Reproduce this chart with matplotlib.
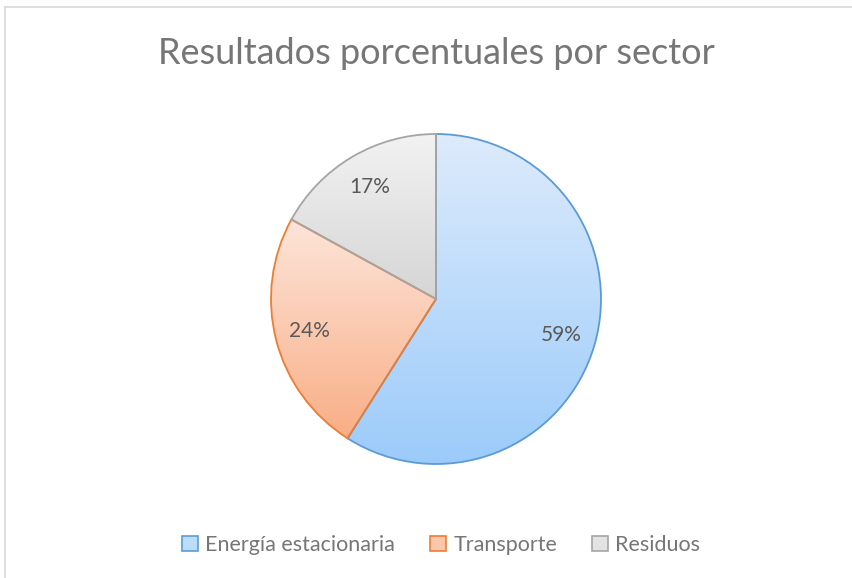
import numpy as np
import matplotlib.pyplot as plt
from matplotlib.patches import Patch
from matplotlib.lines import Line2D
from matplotlib.colors import to_rgb

# Chart data
sectors = ["Energía estacionaria", "Transporte", "Residuos"]
shares = [59, 24, 17]

# Excel-ish colours: (gradient top, gradient bottom, edge)
grad_top = ["#DDEBFC", "#FDE5DA", "#F2F2F2"]
grad_bottom = ["#9CCBFA", "#F9AE86", "#D5D5D5"]
legend_fill = ["#BCDCFB", "#FBC6AA", "#E2E2E2"]
edge_cols = ["#5B9BD5", "#ED7D31", "#A5A5A5"]
text_col = "#595959"
title_col = "#767676"

plt.rcParams["font.family"] = ["Lato", "DejaVu Sans"]

W, H = 853, 578
fig = plt.figure(figsize=(W / 100, H / 100), dpi=100)

# chart frame (cropped screenshot: only top/left visible)
fig.add_artist(Line2D([5 / W, 5 / W], [0, 1 - 7 / H], color="#D9D9D9", lw=1.2))
fig.add_artist(Line2D([5 / W, 1], [1 - 7 / H, 1 - 7 / H], color="#D9D9D9", lw=1.2))

fig.text(436 / W, 1 - 54 / H, "Resultados porcentuales por sector",
         ha="center", va="center", fontsize=26, color=title_col)

# pie centre (436, 299) px, radius 165 px
cx, cy, r = 436, 299, 165
ax = fig.add_axes([(cx - r) / W, (H - cy - r) / H, 2 * r / W, 2 * r / H])

wedges, texts, autotexts = ax.pie(
    shares, startangle=90, counterclock=False, autopct="%1.0f%%",
    pctdistance=0.79, radius=1,
    wedgeprops=dict(facecolor="none", linewidth=1.3),
    textprops=dict(color=text_col, fontsize=15))

for w, top, bot, ec in zip(wedges, grad_top, grad_bottom, edge_cols):
    w.set_edgecolor(ec)
    # vertical gradient over the slice's own bounding box
    t1, t2 = np.radians(w.theta1), np.radians(w.theta2)
    th = np.linspace(t1, t2, 200)
    ys = np.concatenate([[0], np.sin(th)])
    y0, y1 = ys.min(), ys.max()
    g = np.linspace(0, 1, 256)[:, None, None]
    c0 = np.array(to_rgb(top))
    c1 = np.array(to_rgb(bot))
    img = c0 * (1 - g) + c1 * g
    im = ax.imshow(img, extent=[-1.05, 1.05, y0, y1], origin="upper",
                   aspect="auto", zorder=w.get_zorder() - 0.1)
    im.set_clip_path(w)

ax.set_xlim(-1, 1)
ax.set_ylim(-1, 1)
ax.set_aspect("equal")
ax.axis("off")

handles = [Patch(facecolor=fc, edgecolor=ec, linewidth=1.2)
           for fc, ec in zip(legend_fill, edge_cols)]
fig.legend(handles, sectors, loc="center", bbox_to_anchor=(441 / W, 1 - 545 / H),
           ncol=3, frameon=False, fontsize=15.5, labelcolor=title_col,
           handlelength=0.75, handleheight=0.75, handletextpad=0.35,
           columnspacing=1.6)

fig.savefig("out.png", dpi=100)
